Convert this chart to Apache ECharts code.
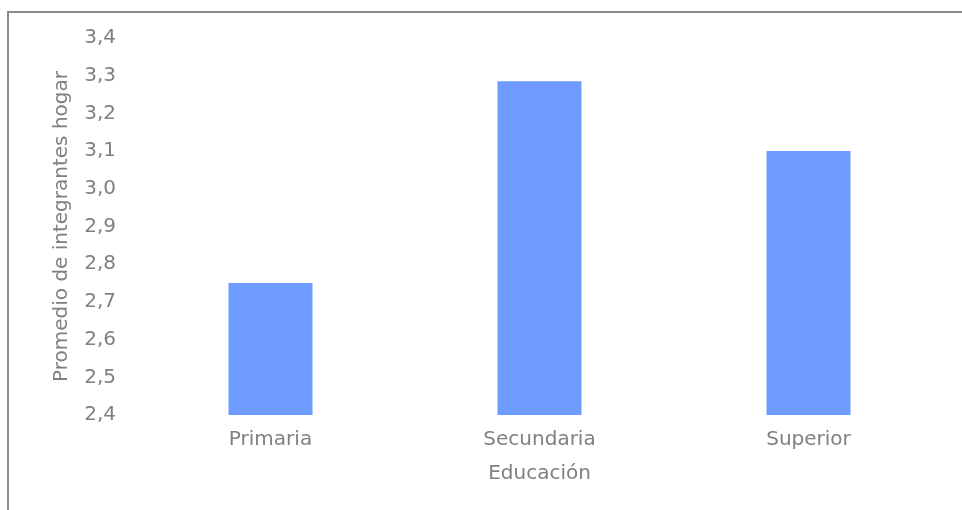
<!DOCTYPE html>
<html>
<head>
<meta charset="utf-8">
<script src="https://cdn.jsdelivr.net/npm/echarts@6/dist/echarts.min.js"></script>
<style>
  html, body { margin: 0; padding: 0; background: #fff; }
  .frame {
    position: absolute; left: 7px; top: 11px; right: 0; bottom: 0;
    border-top: 2px solid #8c8c8c; border-left: 2px solid #8c8c8c;
  }
  #chart { position: absolute; left: 0; top: 0; width: 962px; height: 510px; }
</style>
</head>
<body>
<div class="frame"></div>
<div id="chart"></div>
<script>
// data
const categories = ['Primaria', 'Secundaria', 'Superior'];
const promedio = [2.75, 3.285, 3.10];
const yMin = 2.4;
const yMax = 3.4;

const chart = echarts.init(document.getElementById('chart'));

const labelFont = { fontFamily: 'DejaVu Sans, sans-serif', fontSize: 20, color: '#808080' };

chart.setOption({
  animation: false,
  backgroundColor: 'transparent',
  grid: { left: 136, right: 19, top: 38, bottom: 95 },
  xAxis: {
    type: 'category',
    data: categories,
    name: 'Educación',
    nameLocation: 'middle',
    nameGap: 49,
    nameTextStyle: labelFont,
    axisLine: { show: false },
    axisTick: { show: false },
    axisLabel: Object.assign({ margin: 15 }, labelFont)
  },
  yAxis: {
    type: 'value',
    min: yMin,
    max: yMax,
    interval: 0.1,
    name: 'Promedio de integrantes hogar',
    nameLocation: 'middle',
    nameGap: 64,
    nameTextStyle: labelFont,
    axisLine: { show: false },
    axisTick: { show: false },
    splitLine: { show: false },
    axisLabel: Object.assign({
      margin: 20,
      formatter: v => v.toFixed(1).replace('.', ',')
    }, labelFont)
  },
  series: [{
    type: 'bar',
    data: promedio,
    barWidth: 84,
    itemStyle: { color: '#6e9bff' }
  }]
});
</script>
</body>
</html>
